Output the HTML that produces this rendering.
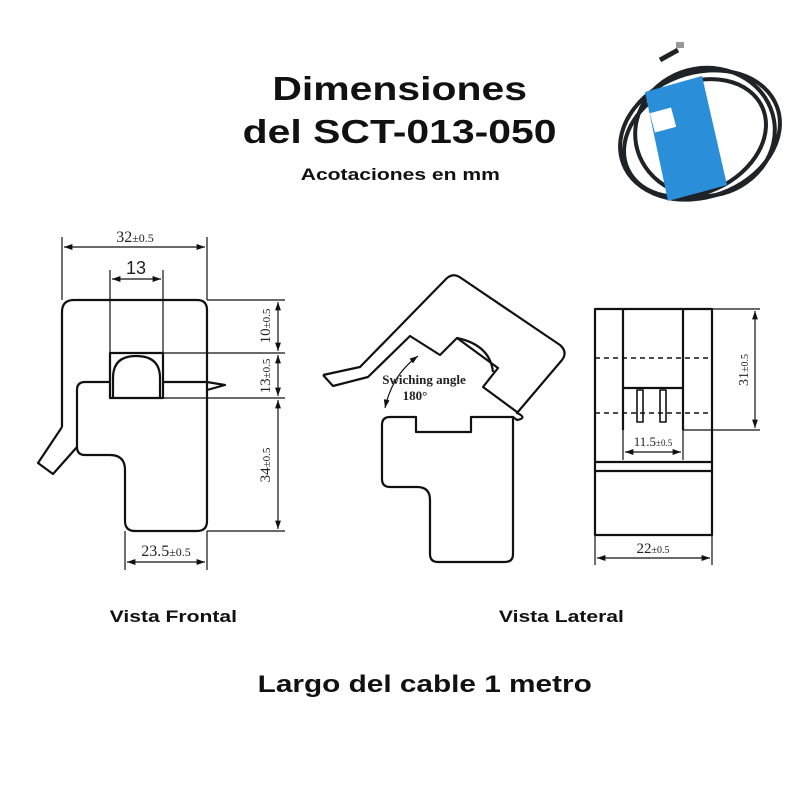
<!DOCTYPE html>
<html><head><meta charset="utf-8"><style>
html,body{margin:0;padding:0;background:#fff;}
body{width:800px;height:800px;position:relative;overflow:hidden;font-family:"Liberation Sans",sans-serif;}
.t{position:absolute;left:0;width:800px;text-align:center;font-weight:bold;color:#111;}
.t span{display:inline-block;transform:scaleX(1.24);}
</style></head><body>
<svg width="800" height="800" style="position:absolute;left:0;top:0" xmlns="http://www.w3.org/2000/svg">
<defs>
<marker id="a" viewBox="0 0 10 10" refX="10" refY="5" markerWidth="7" markerHeight="7" orient="auto-start-reverse"><path d="M0,1.5 L10,5 L0,8.5 z" fill="#111"/></marker>
</defs>
<!-- photo -->
<g fill="none" stroke="#1e2328" stroke-width="4">
<ellipse cx="700" cy="135" rx="82" ry="62" transform="rotate(-20 700 135)"/>
<ellipse cx="695" cy="138" rx="74" ry="55" transform="rotate(-25 695 138)"/>
<ellipse cx="705" cy="132" rx="70" ry="64" transform="rotate(-10 705 132)"/>
<path d="M660,60 L678,50" stroke-width="5"/>
</g>
<rect x="676" y="42" width="8" height="6" fill="#999"/>
<polygon points="645,92 702,76 727,185 668,201" fill="#2a8fd8"/>
<rect x="652" y="110" width="22" height="20" fill="#fff" transform="rotate(-15 663 120)"/>
<g fill="none" stroke="#111" stroke-width="2.2" stroke-linejoin="round">
<path d="M62,427 L62,312 Q62,300 74,300 L197,300 Q207,300 207,310 L207,521 Q207,531 197,531 L135,531 Q125,531 125,521 L125,470 Q125,455 110,455 L85,455 Q77,455 77,447 L53,474 L38,463 L62,427"/>
<path d="M77,447 L77,390 Q77,382 85,382 L110,382"/>
<path d="M163,382 L207,382 L225,385 L207,390"/>
<rect x="110" y="353" width="53" height="45"/>
<path d="M113,398 L113,378 Q113,356 136,356 Q160,356 160,378 L160,398"/>
<path d="M390,417 L416,417 L416,432 L471,432 L471,417 L513,417 L513,554 Q513,562 505,562 L438,562 Q430,562 430,554 L430,500 Q430,487 417,487 L390,487 Q382,487 382,479 L382,425 Q382,417 390,417"/>
<path d="M323,375 L360,367 L446,279 Q453,272 461,278 L560,345 Q568,352 562,360 L517,413 Q528,418 517,420 L513,417"/>
<path d="M323,375 L333,386 L368,377 L410,336 L440,355 L457,338 L498,368 L483,387 L517,412"/>
<path d="M457,338 Q490,345 493,372"/>
<rect x="595" y="309" width="117" height="226"/>
<path d="M623,309 L623,430 M683,309 L683,430 M623,388 L683,388 M595,462 L712,462 M595,471 L712,471"/>
<rect x="637" y="390" width="6" height="32" stroke-width="1.6"/>
<rect x="660" y="390" width="6" height="32" stroke-width="1.6"/>
</g>
<g stroke="#111" stroke-width="1.4" stroke-dasharray="5,4"><path d="M595,358 L712,358 M595,413 L712,413"/></g>
<g stroke="#111" stroke-width="1.2" fill="none">
<path d="M62,237 L62,300 M207,237 L207,300 M110,270 L110,353 M163,270 L163,353 M207,300 L285,300 M163,353 L285,353 M163,398 L285,398 M207,531 L285,531 M125,531 L125,570 M207,531 L207,570"/>
<path d="M712,309 L760,309 M683,430 L760,430 M623,430 L623,460 M683,430 L683,460 M595,535 L595,565 M712,535 L712,565"/>
<line x1="64" y1="247" x2="205" y2="247" marker-start="url(#a)" marker-end="url(#a)"/>
<line x1="112" y1="279" x2="161" y2="279" marker-start="url(#a)" marker-end="url(#a)"/>
<line x1="278" y1="302" x2="278" y2="351" marker-start="url(#a)" marker-end="url(#a)"/>
<line x1="278" y1="355" x2="278" y2="396" marker-start="url(#a)" marker-end="url(#a)"/>
<line x1="278" y1="400" x2="278" y2="529" marker-start="url(#a)" marker-end="url(#a)"/>
<line x1="127" y1="562" x2="205" y2="562" marker-start="url(#a)" marker-end="url(#a)"/>
<line x1="755" y1="311" x2="755" y2="428" marker-start="url(#a)" marker-end="url(#a)"/>
<line x1="625" y1="452" x2="681" y2="452" marker-start="url(#a)" marker-end="url(#a)"/>
<line x1="597" y1="558" x2="710" y2="558" marker-start="url(#a)" marker-end="url(#a)"/>
<path d="M385,408 Q392,375 418,356" marker-start="url(#a)" marker-end="url(#a)"/>
</g>
<g font-family="Liberation Serif, serif" fill="#222">
<text x="135" y="242" font-size="16" text-anchor="middle">32<tspan font-size="12">±0.5</tspan></text>
<text x="136" y="274" font-size="18" text-anchor="middle" font-family="Liberation Sans, sans-serif">13</text>
<text x="166" y="556" font-size="16" text-anchor="middle">23.5<tspan font-size="12">±0.5</tspan></text>
<text transform="translate(270,326) rotate(-90)" font-size="15" text-anchor="middle">10<tspan font-size="11">±0.5</tspan></text>
<text transform="translate(270,376) rotate(-90)" font-size="15" text-anchor="middle">13<tspan font-size="11">±0.5</tspan></text>
<text transform="translate(270,465) rotate(-90)" font-size="15" text-anchor="middle">34<tspan font-size="11">±0.5</tspan></text>
<text transform="translate(748,370) rotate(-90)" font-size="14" text-anchor="middle">31<tspan font-size="10">±0.5</tspan></text>
<text x="653" y="446" font-size="13" text-anchor="middle">11.5<tspan font-size="9">±0.5</tspan></text>
<text x="653" y="553" font-size="15" text-anchor="middle">22<tspan font-size="10">±0.5</tspan></text>
<text x="424" y="384" font-size="13" font-weight="bold" text-anchor="middle">Swiching angle</text>
<text x="415" y="400" font-size="13" font-weight="bold" text-anchor="middle">180°</text>
</g>
</svg>
<div class="t" style="top:70px;font-size:33px"><span>Dimensiones</span></div>
<div class="t" style="top:113px;font-size:33px"><span>del SCT-013-050</span></div>
<div class="t" style="top:165px;font-size:17px"><span>Acotaciones en mm</span></div>
<div class="t" style="top:607px;font-size:17px;left:-227px"><span>Vista Frontal</span></div>
<div class="t" style="top:607px;font-size:17px;left:161px"><span>Vista Lateral</span></div>
<div class="t" style="top:671px;font-size:24px;left:25px"><span>Largo del cable 1 metro</span></div>
</body></html>
